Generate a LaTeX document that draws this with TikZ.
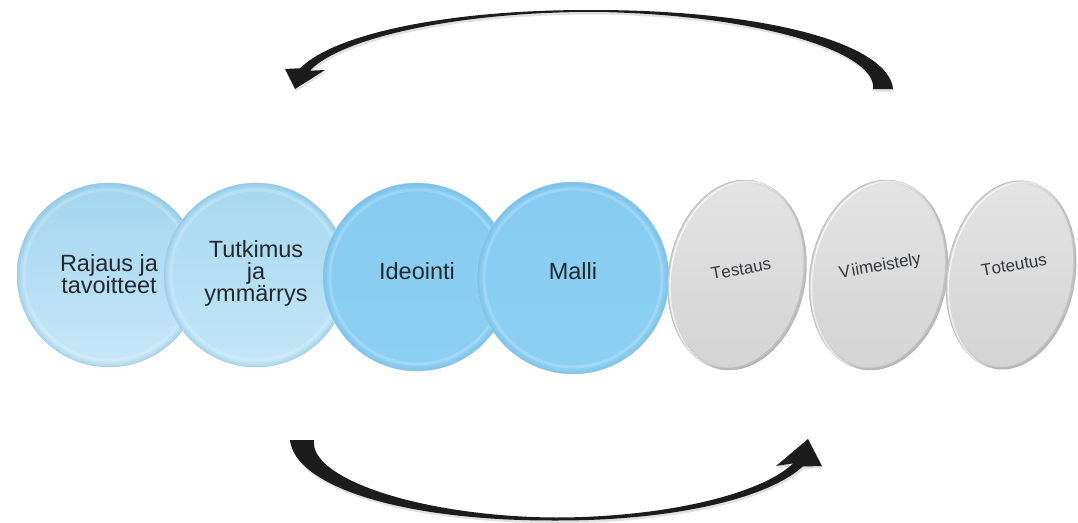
\documentclass[tikz,border=0pt]{standalone}
\usepackage{fontspec}
\setmainfont{Liberation Sans}
\newfontfamily\discsmallfont[Kerning=Off]{Liberation Sans}
\usetikzlibrary{shapes.geometric}

\definecolor{txtdark}{HTML}{22282E}
\definecolor{paleTop}{HTML}{A2D5F0}
\definecolor{paleBot}{HTML}{C8E7F8}
\definecolor{paleTwoTop}{HTML}{A6D8F1}
\definecolor{paleTwoBot}{HTML}{C4E6F7}
\definecolor{skyTop}{HTML}{86CCF1}
\definecolor{skyBot}{HTML}{8ED0F3}
\definecolor{blueRim}{HTML}{5AA2CB}
\definecolor{greyTop}{HTML}{E4E4E4}
\definecolor{greyBot}{HTML}{D4D4D4}
\definecolor{greyRim}{HTML}{8A8A8A}
\definecolor{arrowInk}{HTML}{1C1C1C}

\tikzset{
  discface/.style={circle, inner sep=0pt, draw=blueRim!45, line width=0.4pt},
  disctext/.style={font=\fontsize{23.5}{22}\selectfont, text=txtdark, align=center, inner sep=0pt},
  greyface/.style={ellipse, inner sep=0pt, top color=greyTop, bottom color=greyBot,
                   draw=greyRim!55, line width=0.4pt},
  greytext/.style={font=\discsmallfont\fontsize{17}{20}\selectfont, text=txtdark!92, inner sep=0pt},
  arrowbody/.style={fill=arrowInk},
  arrowshade/.style={fill=black, opacity=0.12},
}

% blue disc: name, x, y, radius, top colour, bottom colour, label offset, label
\newcommand\bluedisc[8]{%
  \begin{scope}[shift={(#2,#3)}]
    \node[discface, minimum size=2*#4, top color=#5, bottom color=#6] (#1) at (0,0) {};
    \begin{scope}
      \clip (0,0) circle (#4);
      \foreach \lw in {2pt,4pt,6pt,8pt}
        \draw[blueRim, opacity=0.06, line width=\lw] (0,0) circle (#4);
      \draw[white, opacity=0.18, line width=3pt] (0,0) circle (#4-7pt);
    \end{scope}
    \node[disctext] (#1-label) at (0,#7) {#8};
  \end{scope}}

% tilted grey disc: name, x, y, x radius, y radius, label position, label
\newcommand\greydisc[7]{%
  \begin{scope}[shift={(#2,#3)}, rotate=-10]
    \node[greyface, minimum width=2*#4, minimum height=2*#5, transform shape] (#1) at (0,0) {};
    \begin{scope}
      \clip (0,0) ellipse [x radius=#4, y radius=#5];
      \fill[greyRim, opacity=0.22, even odd rule]
        (0,0) ellipse [x radius=#4, y radius=#5]
        (-3pt,1.5pt) ellipse [x radius=#4, y radius=#5];
      \draw[white, opacity=0.9, line width=1.6pt] (2.5pt,-1pt) ellipse [x radius=#4, y radius=#5];
      \foreach \lw in {2pt,4pt,6pt}
        \draw[greyRim, opacity=0.07, line width=\lw] (0,0) ellipse [x radius=#4, y radius=#5];
    \end{scope}
  \end{scope}
  \node[greytext, rotate=10] (#1-label) at #6 {#7};}

% upper return arrow: half ellipse, thick at the right foot, thin at the top
\newcommand\upperarrowpath{%
  plot[domain=0:90, samples=46, variable=\t]
    ({589.3+(293.7+1+9*(1-\t/90)*sqrt(abs(1-\t/90)))*cos(\t)},
     {89-(78+1+9*(1-\t/90)*sqrt(abs(1-\t/90)))*sin(\t)})
  -- plot[domain=90:165.5, samples=40, variable=\t]
    ({589.3+(293.7+1+4*((\t-90)/75.5)*sqrt(abs((\t-90)/75.5)))*cos(\t)},
     {89-(78+1+4*((\t-90)/75.5)*sqrt(abs((\t-90)/75.5)))*sin(\t)})
  -- (285,69) -- (295,89) -- (325,70)
  -- plot[domain=165.5:90, samples=40, variable=\t]
    ({589.3+(293.7-1-4*((\t-90)/75.5)*sqrt(abs((\t-90)/75.5)))*cos(\t)},
     {89-(78-1-4*((\t-90)/75.5)*sqrt(abs((\t-90)/75.5)))*sin(\t)})
  -- plot[domain=90:0, samples=46, variable=\t]
    ({589.3+(293.7-1-9*(1-\t/90)*sqrt(abs(1-\t/90)))*cos(\t)},
     {89-(78-1-9*(1-\t/90)*sqrt(abs(1-\t/90)))*sin(\t)})
  -- cycle}

% lower forward arrow: half ellipse, thick at the left foot, thin at the bottom
\newcommand\lowerarrowpath{%
  plot[domain=180:90, samples=46, variable=\t]
    ({556.5+(254.5+1.5+10.5*((\t-90)/90)*sqrt(abs((\t-90)/90)))*cos(\t)},
     {440+(79+1.5+10.5*((\t-90)/90)*sqrt(abs((\t-90)/90)))*sin(\t)})
  -- plot[domain=90:18.4, samples=40, variable=\t]
    ({556.5+(254.5+1.5+3.5*((90-\t)/71.6)*sqrt(abs((90-\t)/71.6)))*cos(\t)},
     {440+(79+1.5+3.5*((90-\t)/71.6)*sqrt(abs((90-\t)/71.6)))*sin(\t)})
  -- (822,466) -- (808,439) -- (776,466)
  -- plot[domain=18.4:90, samples=40, variable=\t]
    ({556.5+(254.5-1.5-3.5*((90-\t)/71.6)*sqrt(abs((90-\t)/71.6)))*cos(\t)},
     {440+(79-1.5-3.5*((90-\t)/71.6)*sqrt(abs((90-\t)/71.6)))*sin(\t)})
  -- plot[domain=90:180, samples=46, variable=\t]
    ({556.5+(254.5-1.5-10.5*((\t-90)/90)*sqrt(abs((\t-90)/90)))*cos(\t)},
     {440+(79-1.5-10.5*((\t-90)/90)*sqrt(abs((\t-90)/90)))*sin(\t)})
  -- cycle}

\begin{document}
\begin{tikzpicture}[x=1pt, y=-1pt]
  \useasboundingbox (0,0) rectangle (1078,522);
  \fill[white] (0,0) rectangle (1078,522);

  % return and forward arrows
  \fill[arrowshade, shift={(1pt,-2.5pt)}] \upperarrowpath;
  \fill[arrowbody] \upperarrowpath;
  \fill[arrowshade, shift={(1pt,-2.5pt)}] \lowerarrowpath;
  \fill[arrowbody] \lowerarrowpath;

  % phases
  \bluedisc{rajaus}{109}{275}{92pt}{paleTop}{paleBot}{-1}{Rajaus ja\\tavoitteet}
  \bluedisc{tutkimus}{256}{275}{92pt}{paleTwoTop}{paleTwoBot}{-2}{Tutkimus\\ja\\ymmärrys}
  \bluedisc{ideointi}{417}{277}{94pt}{skyTop}{skyBot}{-6}{Ideointi}
  \bluedisc{malli}{573}{278}{96pt}{skyTop}{skyBot}{-7}{Malli}

  \greydisc{testaus}{737}{275}{68.5pt}{95.7pt}{(741,269)}{Testaus}
  \greydisc{viimeistely}{878.5}{275}{68.5pt}{95.7pt}{(880,267)}{V\kern1.5pt iimeistely}
  \greydisc{toteutus}{1011}{275}{64pt}{95pt}{(1014,265)}{Toteutus}
\end{tikzpicture}
\end{document}
